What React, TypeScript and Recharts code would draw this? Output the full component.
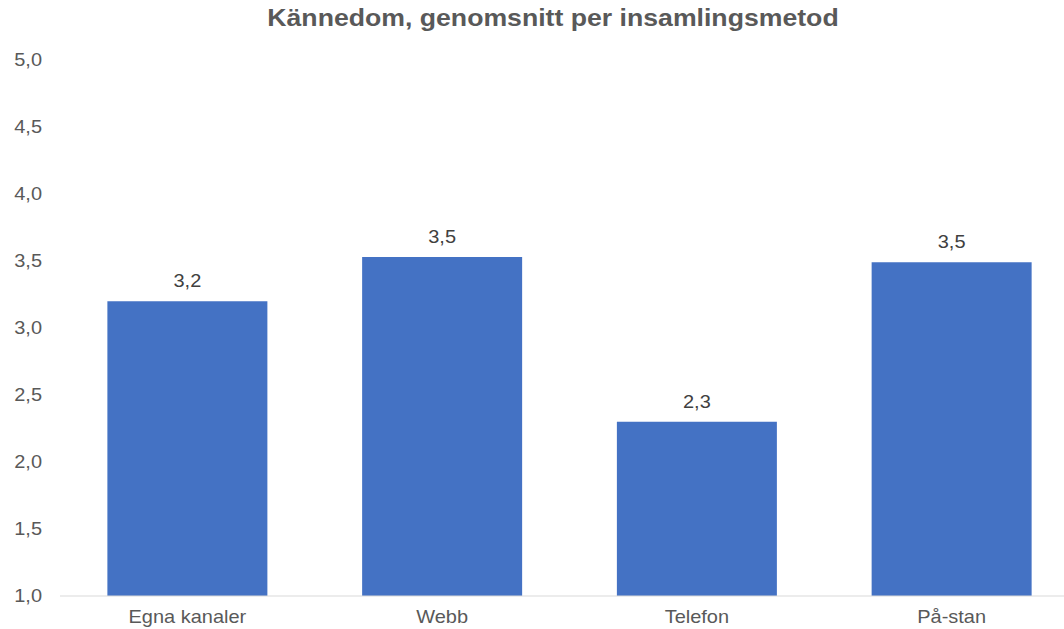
import { BarChart, Bar, XAxis, YAxis, LabelList } from 'recharts'

const categories = ['Egna kanaler', 'Webb', 'Telefon', 'På-stan']
const values = [3.2, 3.53, 2.3, 3.49]
const yTicks = [1, 1.5, 2, 2.5, 3, 3.5, 4, 4.5, 5]

const data = categories.map((name, i) => ({ name, value: values[i] }))

const fmt = (v: number) => v.toFixed(1).replace('.', ',')

const SX = 1.11
const FONT = '"Liberation Sans", Arial, sans-serif'

// text slightly stretched horizontally, like the original
function Wide({ x, y, anchor, dy, children, fill = '#595959' }: any) {
  return (
    <g transform={`translate(${x},${y})`}>
      <text transform={`scale(${SX},1)`} textAnchor={anchor} dy={dy} fill={fill} fontSize={18} fontFamily={FONT}>
        {children}
      </text>
    </g>
  )
}

const XTick = (props: any) => (
  <Wide x={props.x} y={props.y} anchor="middle" dy={19}>{props.payload.value}</Wide>
)

const YTick = (props: any) => (
  <Wide x={props.x} y={props.y} anchor="end" dy="0.36em">{fmt(props.payload.value)}</Wide>
)

const BarLabel = (props: any) => (
  <Wide x={props.x + props.width / 2} y={props.y} anchor="middle" dy={-14} fill="#404040">{fmt(Number(props.value))}</Wide>
)

export default function App() {
  return (
    <div style={{ position: 'absolute', left: 0, top: 0, width: 1064, height: 629, overflow: 'hidden', background: '#fff', fontFamily: FONT }}>
      <div style={{ position: 'absolute', top: 4, left: 553 - 400, width: 800, textAlign: 'center', fontSize: 24, fontWeight: 'bold', color: '#595959', transform: 'scaleX(1.11)' }}>
        Kännedom, genomsnitt per insamlingsmetod
      </div>
      <BarChart width={1080} height={629} data={data} margin={{ top: 60, right: 1, bottom: 3, left: 0 }} barCategoryGap="18.6%">
        <XAxis
          dataKey="name"
          height={30}
          tickLine={false}
          stroke="#d9d9d9"
          tick={XTick}
        />
        <YAxis
          width={60}
          domain={[1, 5]}
          ticks={yTicks}
          axisLine={false}
          tickLine={false}
          tickMargin={12}
          tick={YTick}
        />
        <Bar dataKey="value" fill="#4472C4" isAnimationActive={false}>
          <LabelList dataKey="value" content={BarLabel} />
        </Bar>
      </BarChart>
    </div>
  )
}
